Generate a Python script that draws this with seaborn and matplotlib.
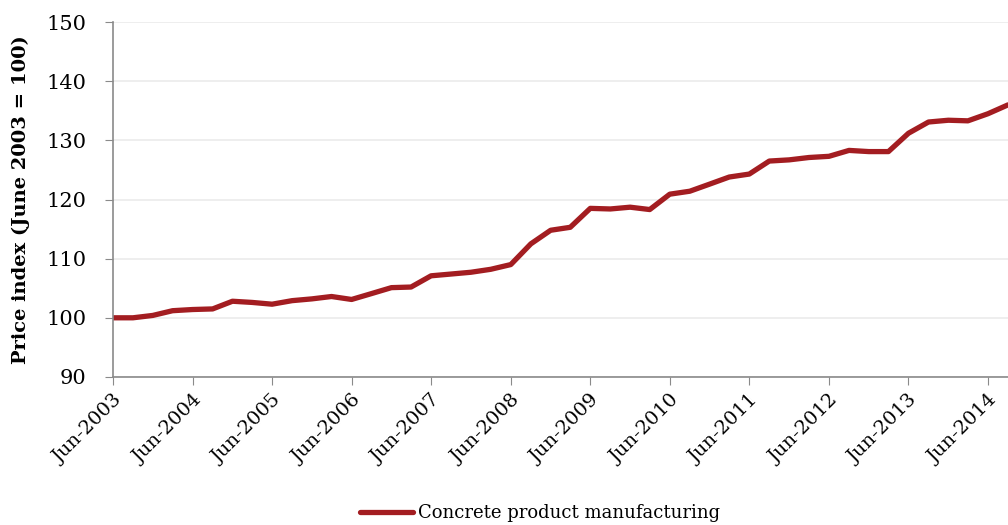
import pandas as pd
import numpy as np
import matplotlib.pyplot as plt
import matplotlib.dates as mdates
import seaborn as sns

sns.set_style('white')
plt.rcParams['font.family'] = ['DejaVu Serif']
plt.rcParams['text.color'] = 'black'
plt.rcParams['axes.labelcolor'] = 'black'
plt.rcParams['xtick.color'] = 'black'
plt.rcParams['ytick.color'] = 'black'

# Quarterly price index, Jun-2003 .. Sep-2014
quarters = pd.date_range('2003-06-01', '2014-09-01', freq='3MS')
price_index = [
    100.0, 100.0, 100.4, 101.2, 101.4, 101.5, 102.8, 102.6,
    102.3, 102.9, 103.2, 103.6, 103.1, 104.1, 105.1, 105.2,
    107.1, 107.4, 107.7, 108.2, 109.0, 112.5, 114.8, 115.3,
    118.5, 118.4, 118.7, 118.3, 120.9, 121.4, 122.6, 123.8,
    124.3, 126.5, 126.7, 127.1, 127.3, 128.3, 128.1, 128.1,
    131.2, 133.1, 133.4, 133.3, 134.5, 136.0,
]
series_name = 'Concrete product manufacturing'

df = pd.DataFrame({'Quarter': quarters, 'Index': price_index})

fig = plt.figure(figsize=(10.08, 5.25), dpi=100)
ax = fig.add_axes([0.112, 0.282, 0.888, 0.676])

sns.lineplot(data=df, x='Quarter', y='Index', ax=ax, color='#a31d21',
             linewidth=3.8, label=series_name)

ax.set_ylim(90, 150)
ax.set_yticks(np.arange(90, 151, 10))
ax.set_xlim(quarters[0], quarters[-1])
ax.xaxis.set_major_locator(mdates.MonthLocator(bymonth=6))
ax.xaxis.set_major_formatter(mdates.DateFormatter('%b-%Y'))

# Grid and spines
ax.grid(axis='y', color='#ebebeb', linewidth=1.2)
ax.grid(axis='x', visible=False)
for side in ['top', 'right']:
    ax.spines[side].set_visible(False)
for side in ['left', 'bottom']:
    ax.spines[side].set_color('#8a8a8a')
    ax.spines[side].set_linewidth(1.2)

ax.tick_params(axis='y', length=6, color='#8a8a8a', labelcolor='black',
               labelsize=15, pad=13, left=True)
ax.tick_params(axis='x', length=6, color='#8a8a8a', labelcolor='black',
               labelsize=14, pad=4, bottom=True)
plt.setp(ax.get_xticklabels(), rotation=45, ha='right', rotation_mode='anchor')

ax.set_xlabel('')
ax.set_ylabel('Price index (June 2003 = 100)', fontsize=14,
              fontweight='bold', labelpad=12)

ax.legend(loc='center', bbox_to_anchor=(0.536, 0.023),
          bbox_transform=fig.transFigure, frameon=False, fontsize=13,
          handlelength=2.9, handletextpad=0.3)

fig.savefig('out.png', dpi=100)
